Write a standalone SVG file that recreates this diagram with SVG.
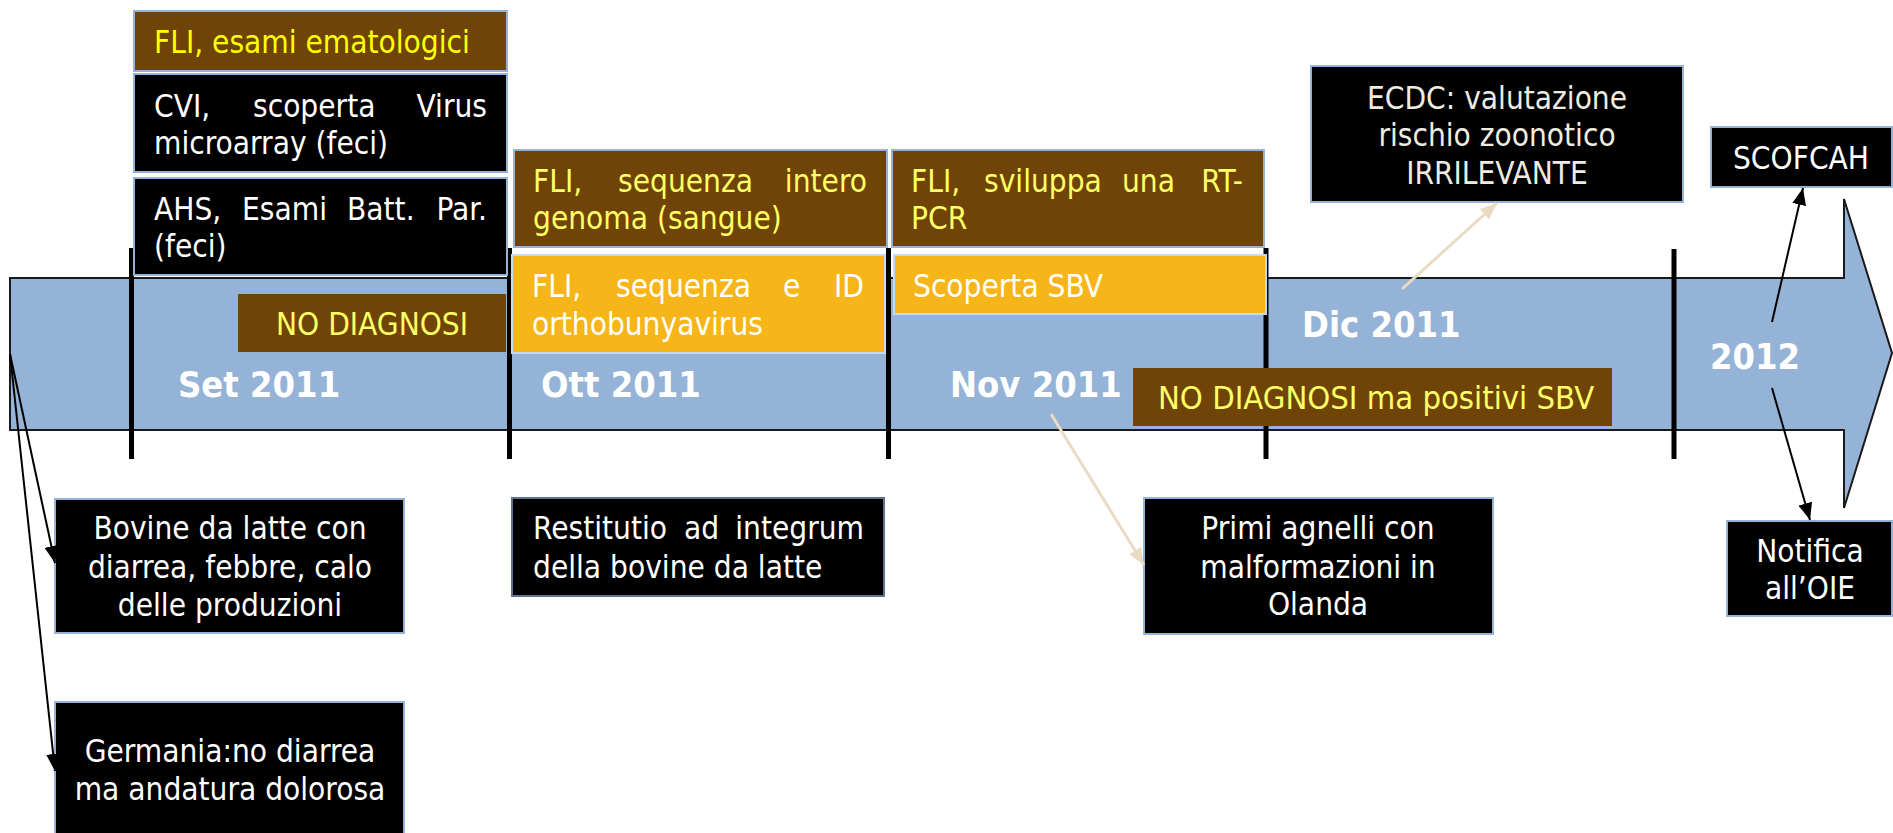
<svg xmlns="http://www.w3.org/2000/svg" width="1893" height="833" viewBox="0 0 1893 833">
<defs>
<style>
.t{font-family:"DejaVu Sans Condensed","DejaVu Sans","Liberation Sans",sans-serif;font-stretch:condensed;font-size:31.3px}
.w{fill:#ffffff}
.y{fill:#ffff66}
.yy{fill:#ffff00}
.e{fill:#eeece1}
.c{text-anchor:middle}
.r{text-anchor:end}
.lbl{font-family:"DejaVu Sans Condensed","DejaVu Sans",sans-serif;font-stretch:condensed;font-weight:bold;font-size:36px;fill:#ffffff}
.bk{fill:#000000;stroke:#95b3d7;stroke-width:2}
.br{fill:#6f4406;stroke:#95b3d7;stroke-width:2}
.brn{fill:#6f4406}
.or{fill:#f6b518;stroke:#c6d9f1;stroke-width:2}
.vl{stroke:#000000;stroke-width:5}
.ka{stroke:#000000;stroke-width:2;fill:none}
.ba{stroke:#eadcc4;stroke-width:3;fill:none}
</style>
<marker id="mk" markerUnits="userSpaceOnUse" markerWidth="18" markerHeight="14" refX="17" refY="7" orient="auto">
<path d="M0,0 L17,7 L0,14 z" fill="#000000"/>
</marker>
<marker id="mb" markerUnits="userSpaceOnUse" markerWidth="18" markerHeight="14" refX="17" refY="7" orient="auto">
<path d="M0,0 L17,7 L0,14 z" fill="#eadcc4"/>
</marker>
</defs>

<g id="timeline">
<path d="M10,278 L1844,278 L1844,199 L1892,353 L1844,508 L1844,430 L10,430 Z" fill="#95b3d7" stroke="#1a1a1a" stroke-width="2"/>
<line class="vl" x1="131.5" y1="248" x2="131.5" y2="459"/>
<line class="vl" x1="509.5" y1="248" x2="509.5" y2="459"/>
<line class="vl" x1="888.5" y1="248" x2="888.5" y2="459"/>
<line class="vl" x1="1266" y1="248" x2="1266" y2="459"/>
<line class="vl" x1="1674" y1="249" x2="1674" y2="459"/>
<text class="lbl" x="178" y="397">Set 2011</text>
<text class="lbl" x="541" y="397">Ott 2011</text>
<text class="lbl" x="950" y="397">Nov 2011</text>
<text class="lbl" x="1302" y="337">Dic 2011</text>
<text class="lbl" x="1710" y="369">2012</text>
</g>

<g id="n-fli-ematologici">
<rect class="br" x="134" y="11" width="373" height="60"/>
<text class="t yy" x="154" y="53">FLI, esami ematologici</text>
</g>

<g id="n-cvi">
<rect class="bk" x="134" y="74" width="373" height="98"/>
<text class="t w" y="117"><tspan x="154">CVI,</tspan><tspan x="253">scoperta</tspan><tspan x="487" class="r">Virus</tspan></text>
<text class="t w" x="154" y="154">microarray (feci)</text>
</g>

<g id="n-ahs">
<rect class="bk" x="134" y="178" width="373" height="97"/>
<text class="t w" y="220"><tspan x="154">AHS,</tspan><tspan x="242">Esami</tspan><tspan x="347">Batt.</tspan><tspan x="487" class="r">Par.</tspan></text>
<text class="t w" x="154" y="257">(feci)</text>
</g>

<g id="n-no-diagnosi">
<rect class="brn" x="238" y="294" width="268" height="58"/>
<text class="t y c" x="372" y="335">NO DIAGNOSI</text>
</g>

<g id="n-fli-intero">
<rect class="br" x="514" y="150" width="373" height="97"/>
<text class="t y" y="192"><tspan x="533">FLI,</tspan><tspan x="618">sequenza</tspan><tspan x="867" class="r">intero</tspan></text>
<text class="t y" x="533" y="229">genoma (sangue)</text>
</g>

<g id="n-fli-id">
<rect class="or" x="512" y="255" width="373" height="98"/>
<text class="t w" y="297"><tspan x="532">FLI,</tspan><tspan x="616">sequenza</tspan><tspan x="783">e</tspan><tspan x="864" class="r">ID</tspan></text>
<text class="t w" x="532" y="335">orthobunyavirus</text>
</g>

<g id="n-fli-rtpcr">
<rect class="br" x="892" y="150" width="372" height="97"/>
<text class="t y" y="192"><tspan x="911">FLI,</tspan><tspan x="984">sviluppa</tspan><tspan x="1122">una</tspan><tspan x="1243" class="r">RT-</tspan></text>
<text class="t y" x="911" y="229">PCR</text>
</g>

<g id="n-scoperta">
<rect class="or" x="894" y="255" width="372" height="59"/>
<text class="t w" x="913" y="297">Scoperta SBV</text>
</g>

<g id="n-no-diagnosi-sbv">
<rect class="brn" x="1133" y="368" width="479" height="58"/>
<text class="t y" x="1158" y="409" style="font-size:32.5px">NO DIAGNOSI ma positivi SBV</text>
</g>

<g id="n-ecdc">
<rect class="bk" x="1311" y="66" width="372" height="136"/>
<text class="t e c" x="1497" y="109">ECDC: valutazione</text>
<text class="t e c" x="1497" y="146">rischio zoonotico</text>
<text class="t e c" x="1497" y="184">IRRILEVANTE</text>
</g>

<g id="n-scofcah">
<rect class="bk" x="1711" y="127" width="181" height="60"/>
<text class="t w c" x="1801" y="169">SCOFCAH</text>
</g>

<g id="n-notifica">
<rect class="bk" x="1727" y="521" width="165" height="95"/>
<text class="t w c" x="1810" y="562">Notifica</text>
<text class="t w c" x="1810" y="599">all’OIE</text>
</g>

<g id="n-primi">
<rect class="bk" x="1144" y="498" width="349" height="136"/>
<text class="t w c" x="1318" y="539">Primi agnelli con</text>
<text class="t w c" x="1318" y="578">malformazioni in</text>
<text class="t w c" x="1318" y="615">Olanda</text>
</g>

<g id="n-bovine">
<rect class="bk" x="55" y="499" width="349" height="134"/>
<text class="t w c" x="230" y="539">Bovine da latte con</text>
<text class="t w c" x="230" y="578">diarrea, febbre, calo</text>
<text class="t w c" x="230" y="616">delle produzioni</text>
</g>

<g id="n-restitutio">
<rect class="bk" x="512" y="498" width="372" height="98" style="stroke:#5f7390"/>
<text class="t w" y="539"><tspan x="533">Restitutio</tspan><tspan x="684">ad</tspan><tspan x="864" class="r">integrum</tspan></text>
<text class="t w" x="533" y="578">della bovine da latte</text>
</g>

<g id="n-germania">
<rect class="bk" x="55" y="702" width="349" height="140"/>
<text class="t w c" x="230" y="762">Germania:no diarrea</text>
<text class="t w c" x="230" y="800">ma andatura dolorosa</text>
</g>

<g id="connectors">
<line class="ka" x1="10" y1="354" x2="55" y2="563" marker-end="url(#mk)"/>
<line class="ka" x1="10" y1="354" x2="55" y2="771" marker-end="url(#mk)"/>
<line class="ka" x1="1772" y1="322" x2="1803" y2="188" marker-end="url(#mk)"/>
<line class="ka" x1="1772" y1="388" x2="1810" y2="520" marker-end="url(#mk)"/>
<line class="ba" x1="1402" y1="289" x2="1497" y2="203" marker-end="url(#mb)"/>
<line class="ba" x1="1051" y1="414" x2="1144" y2="565" marker-end="url(#mb)"/>
</g>
</svg>
